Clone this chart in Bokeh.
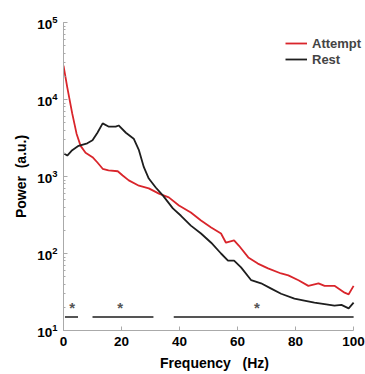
from bokeh.plotting import figure
from bokeh.models import Legend, LegendItem, FixedTicker, ColumnDataSource
from bokeh.core.properties import value
from bokeh.embed import file_html
from bokeh.resources import INLINE

# Attempt (red) spectrum
attempt_freq = [0, 1.3, 3, 4.5, 5.9, 7.6, 10, 11.7, 13.5, 15.5, 18.7, 20.4, 22.5, 26, 29.4,
                32.9, 36.3, 39.8, 43.9, 47.4, 50.9, 54.3, 56, 58.8, 60.5, 63.7, 67, 70.5,
                75, 77.5, 81, 84.4, 87.9, 90, 93.4, 96.9, 98.3, 100]
attempt_power = [27500, 14400, 6600, 3600, 2500, 2040, 1780, 1520, 1260, 1200, 1170, 1030, 890,
                 760, 700, 600, 535, 420, 340, 268, 218, 182, 138, 148, 126, 89, 74, 64,
                 55, 52, 45, 38, 41, 38, 38, 31, 29.5, 38]

# Rest (black) spectrum
rest_freq = [0, 1.3, 3, 5.2, 8.2, 10, 11.7, 13.5, 15.5, 18, 19, 21.5, 24.2, 26, 27.7, 29.4,
             31.8, 34.3, 37.7, 40.5, 43.9, 47.4, 50.9, 54.3, 56.7, 58.8, 61.2, 64.7, 68.1,
             71.6, 75, 79.6, 83, 86.5, 90, 93.4, 95.8, 98.3, 100]
rest_power = [2000, 1870, 2200, 2500, 2700, 2950, 3700, 4900, 4450, 4450, 4600, 3700, 3100,
              2200, 1320, 940, 720, 565, 385, 309, 230, 182, 138, 100, 81, 81, 66, 45, 41,
              35, 30, 26, 24.5, 23, 22, 21, 21.5, 19.4, 23]

# significance bars
sig_start = [0.5, 10, 38]
sig_end = [5, 31, 100]
sig_level = [15, 15, 15]
star_freq = [3, 19.5, 66.7]
star_level = [20, 20, 20]

x_ticks = [0, 20, 40, 60, 80, 100]
y_ticks = [10, 100, 1000, 10000, 100000]

FONT = "Liberation Sans"
NB = "\u00a0"

p = figure(width=365, height=374, output_backend="svg", toolbar_location=None,
           y_axis_type="log", x_range=(0, 104.1), y_range=(10, 100000),
           min_border_left=63, min_border_right=0, min_border_top=22, min_border_bottom=44)
p.outline_line_color = None
p.grid.visible = False
p.background_fill_color = "white"

red = "#d9252b"
blk = "#1e1e1e"
l1 = p.line(attempt_freq, attempt_power, line_color=red, line_width=1.8)
l2 = p.line(rest_freq, rest_power, line_color=blk, line_width=1.8)

p.segment(x0=sig_start, y0=sig_level, x1=sig_end, y1=sig_level, line_color="#555555", line_width=2)
src = ColumnDataSource(dict(x=star_freq, y=star_level, t=["*"] * len(star_freq)))
p.text(x="x", y="y", text="t", source=src, text_align="center", text_baseline="middle",
       text_font=value(FONT), text_font_style="bold", text_font_size="15px", text_color="#555555")

for ax in (p.xaxis[0], p.yaxis[0]):
    ax.axis_line_color = "#aaaaaa"
    ax.major_tick_line_color = "#aaaaaa"
    ax.minor_tick_line_color = "#aaaaaa"
    ax.major_tick_in = 4
    ax.major_tick_out = 0
    ax.minor_tick_in = 2
    ax.minor_tick_out = 0
    ax.major_label_text_font = FONT
    ax.major_label_text_font_style = "bold"
    ax.major_label_text_font_size = "13.5px"
    ax.major_label_text_color = "black"
    ax.axis_label_text_font = FONT
    ax.axis_label_text_font_style = "bold"
    ax.axis_label_text_font_size = "14px"
    ax.axis_label_text_color = "black"

p.xaxis.ticker = FixedTicker(ticks=x_ticks)
p.xaxis.bounds = (0, 100)
p.xaxis.minor_tick_line_color = None
p.xaxis.axis_label = "Frequency" + NB * 3 + "(Hz)"
p.xaxis.major_label_standoff = 6
p.xaxis.axis_label_standoff = 6
p.yaxis.axis_label = "Power" + NB * 2 + "(a.u.)"
p.yaxis.major_label_standoff = 6
p.yaxis.axis_label_standoff = 5

legend = Legend(items=[LegendItem(label="Attempt", renderers=[l1]),
                       LegendItem(label="Rest", renderers=[l2])],
                location=(222, 263), border_line_color=None, background_fill_alpha=0,
                padding=0, margin=0, spacing=0, glyph_width=22, glyph_height=16,
                label_height=16, label_standoff=5,
                label_text_font=FONT, label_text_font_style="bold", label_text_font_size="13px")
p.add_layout(legend)

open("out.html", "w").write(file_html(p, INLINE))
